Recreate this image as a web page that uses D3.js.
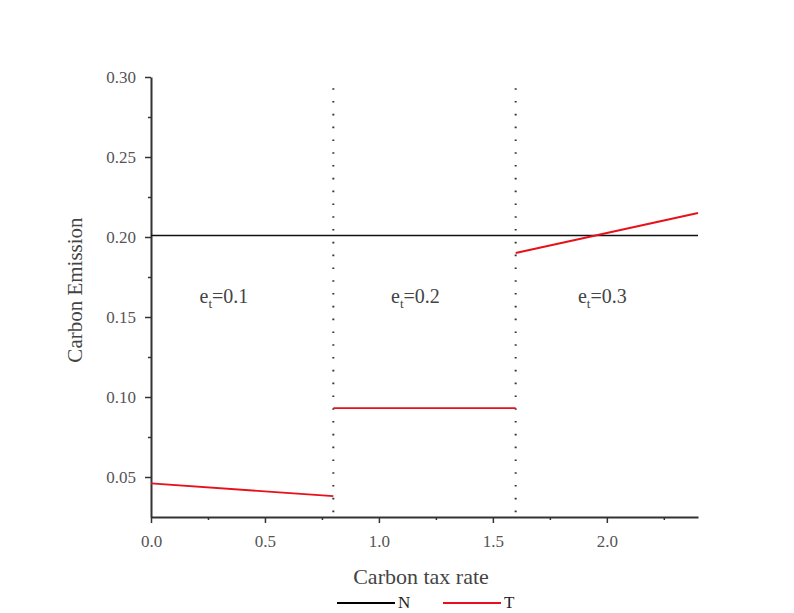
<!DOCTYPE html>
<html><head><meta charset="utf-8">
<script src="https://cdn.jsdelivr.net/npm/d3@7"></script>
<style>body{margin:0;background:#fff}svg{display:block}</style>
</head><body>
<svg id="c" width="794" height="613"></svg>
<script>
const xDomain = [0, 2.4];
const yDomain = [0.025, 0.30];
const xTicks = [0.0, 0.5, 1.0, 1.5, 2.0];
const xMinorTicks = [0.25, 0.75, 1.25, 1.75, 2.25];
const yTicks = [0.05, 0.10, 0.15, 0.20, 0.25, 0.30];
const yMinorTicks = [0.075, 0.125, 0.175, 0.225, 0.275];
const boundaries = [0.8, 1.6];
const boundaryTop = 0.293;
const seriesN = [[0, 0.201], [2.4, 0.201]];
const seriesT = [
  [[0, 0.046], [0.8, 0.038]],
  [[0.8, 0.093], [1.6, 0.093]],
  [[1.6, 0.19], [2.4, 0.215]]
];
const regionLabels = [
  {x: 0.32, y: 0.16, v: "0.1"},
  {x: 1.16, y: 0.16, v: "0.2"},
  {x: 1.98, y: 0.16, v: "0.3"}
];
const legendItems = [{name: "N", color: "#000"}, {name: "T", color: "#e8101a"}];

const svg = d3.select("#c");
const x = d3.scaleLinear().domain(xDomain).range([151, 698]);
const y = d3.scaleLinear().domain(yDomain).range([517, 77]);
const font = "'Liberation Serif', 'Times New Roman', serif";
const axColor = "#333";

// dotted boundaries
svg.selectAll(".bd").data(boundaries).enter().append("line")
  .attr("x1", d => x(d)).attr("x2", d => x(d))
  .attr("y1", y(boundaryTop)).attr("y2", y(yDomain[0]))
  .attr("stroke", "#333").attr("stroke-width", 2)
  .attr("stroke-dasharray", "1.6,11.2");

// axes
const xAxis = d3.axisBottom(x).tickValues(xTicks).tickFormat(d3.format(".1f")).tickSize(6).tickSizeOuter(0).tickPadding(12);
const gx = svg.append("g").attr("transform", `translate(0,${y(yDomain[0])})`).call(xAxis);
const gxm = svg.append("g").attr("transform", `translate(0,${y(yDomain[0])})`)
  .call(d3.axisBottom(x).tickValues(xMinorTicks).tickFormat("").tickSize(3));
const yAxis = d3.axisLeft(y).tickValues(yTicks).tickFormat(d3.format(".2f")).tickSize(6).tickSizeOuter(0).tickPadding(9);
const gy = svg.append("g").attr("transform", `translate(${x(0)},0)`).call(yAxis);
const gym = svg.append("g").attr("transform", `translate(${x(0)},0)`)
  .call(d3.axisLeft(y).tickValues(yMinorTicks).tickFormat("").tickSize(3));
[gx, gxm, gy, gym].forEach(g => {
  g.attr("font-family", font);
  g.select(".domain").attr("stroke", axColor).attr("stroke-width", 2);
  g.selectAll(".tick line").attr("stroke", axColor).attr("stroke-width", 1.5);
  g.selectAll("text").attr("font-family", font).attr("font-size", 17).attr("fill", "#555");
});
gxm.select(".domain").remove();
gym.select(".domain").remove();

// N line
const line = d3.line().x(d => x(d[0])).y(d => y(d[1]));
svg.append("path").datum(seriesN).attr("d", line)
  .attr("fill", "none").attr("stroke", "#111").attr("stroke-width", 1.5);
// T segments
svg.selectAll(".t").data(seriesT).enter().append("path").attr("d", line)
  .attr("fill", "none").attr("stroke", legendItems[1].color).attr("stroke-width", 1.8);

// region labels
regionLabels.forEach(r => {
  const t = svg.append("text").attr("x", x(r.x)).attr("y", y(r.y) + 2)
    .attr("text-anchor", "middle").attr("font-family", font).attr("font-size", 20).attr("fill", "#444");
  t.append("tspan").text("e");
  t.append("tspan").attr("font-size", 13).attr("dy", 5).text("t");
  t.append("tspan").attr("dy", -5).text("=" + r.v);
});

// axis titles
svg.append("text").attr("x", 421).attr("y", 584).attr("text-anchor", "middle")
  .attr("font-family", font).attr("font-size", 22).attr("fill", "#444").text("Carbon tax rate");
svg.append("text").attr("transform", "translate(82,290) rotate(-90)").attr("text-anchor", "middle")
  .attr("font-family", font).attr("font-size", 21).attr("fill", "#444").text("Carbon Emission");

// legend
const lg = svg.append("g");
const lx = [337, 443];
legendItems.forEach((it, i) => {
  lg.append("line").attr("x1", lx[i]).attr("x2", lx[i] + 58).attr("y1", 603).attr("y2", 603)
    .attr("stroke", it.color).attr("stroke-width", 1.8);
  lg.append("text").attr("x", lx[i] + 61).attr("y", 608).attr("font-family", font)
    .attr("font-size", 17).attr("fill", "#222").text(it.name);
});
</script>
</body></html>
